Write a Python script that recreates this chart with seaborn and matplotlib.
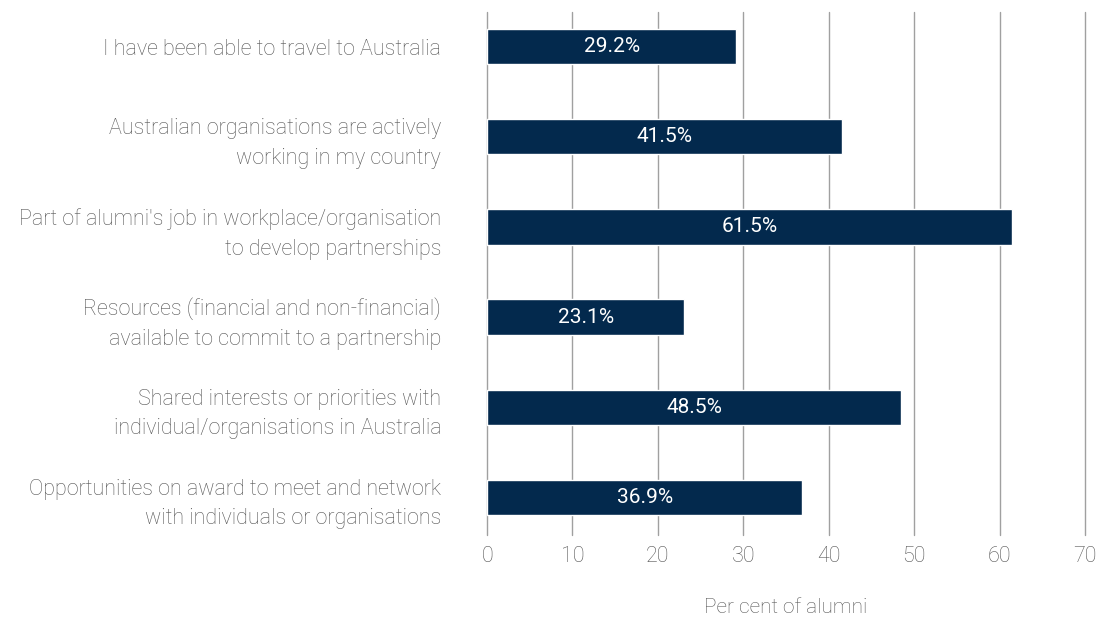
import matplotlib.pyplot as plt
import seaborn as sns
import pandas as pd

categories = [
    "I have been able to travel to Australia",
    "Australian organisations are actively\nworking in my country",
    "Part of alumni's job in workplace/organisation\nto develop partnerships",
    "Resources (financial and non-financial)\navailable to commit to a partnership",
    "Shared interests or priorities with\nindividual/organisations in Australia",
    "Opportunities on award to meet and network\nwith individuals or organisations",
]
values = [29.2, 41.5, 61.5, 23.1, 48.5, 36.9]
xticks = [0, 10, 20, 30, 40, 50, 60, 70]

df = pd.DataFrame({"factor": categories, "pct": values})

sns.set_style("white")
plt.rcParams["font.family"] = ["Roboto", "DejaVu Sans"]

text_color = "#555555"
bar_color = "#03294d"

fig = plt.figure(figsize=(10.97, 6.17), dpi=100)
ax = fig.add_axes([0.444, 0.133, 0.545, 0.848])

sns.barplot(data=df, x="pct", y="factor", orient="h", color=bar_color,
            width=0.39, saturation=1, ax=ax, zorder=3)

# value labels centred in each bar
for i, v in enumerate(values):
    ax.text(v / 2, i, f"{v}%", ha="center", va="center", color="white",
            fontsize=15, zorder=4)

ax.set_xlim(0, 70)
ax.set_ylim(5.42, -0.39)
ax.set_xticks(xticks)
ax.grid(axis="x", color="#a0a0a0", linewidth=1, zorder=0)
for gl in ax.get_xgridlines():
    gl.set_clip_on(False)
ax.grid(axis="y", visible=False)
for s in ax.spines.values():
    s.set_visible(False)
ax.tick_params(axis="both", length=0, colors=text_color, labelsize=15.5)
ax.tick_params(axis="x", pad=8)
ax.tick_params(axis="y", pad=33)
for lbl in ax.get_yticklabels() + ax.get_xticklabels():
    lbl.set_fontweight("light")
for lbl in ax.get_yticklabels():
    lbl.set_horizontalalignment("right")
    lbl.set_multialignment("right")
    lbl.set_linespacing(1.55)
ax.set_ylabel("")
ax.set_xlabel("")
fig.text(0.7165, 0.016, "Per cent of alumni", ha="center", va="center",
         color=text_color, fontsize=15, fontweight="light")

fig.savefig("out.png", dpi=100)
